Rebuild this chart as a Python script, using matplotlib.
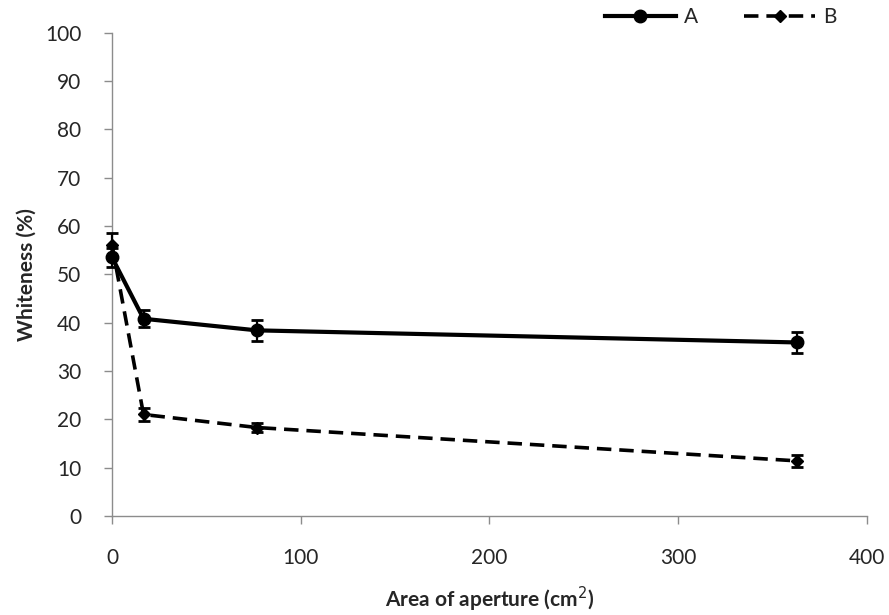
import matplotlib
matplotlib.use("Agg")
import matplotlib.pyplot as plt
from matplotlib.lines import Line2D

plt.rcParams['font.family'] = ['Lato', 'DejaVu Sans']

# Aperture area (cm^2) and whiteness (%) with standard deviations
area = [0, 16.7, 76.8, 363]
whiteness_a = [53.5, 40.8, 38.4, 35.9]
err_a = [2.0, 1.8, 2.1, 2.2]
whiteness_b = [56.0, 21.0, 18.3, 11.4]
err_b = [2.5, 1.3, 1.0, 1.3]
series_names = ["A", "B"]
x_ticks = [0, 100, 200, 300, 400]
y_ticks = list(range(0, 101, 10))

fig = plt.figure(figsize=(8.89, 6.15), dpi=100)
ax = fig.add_axes([0.126, 0.161, 0.849, 0.786])

style_a = dict(color='black', lw=3.0, marker='o', ms=9)
style_b = dict(color='black', lw=2.6, ls=(0, (4, 2.2)), marker='D', ms=6)

for y, e, st in [(whiteness_a, err_a, style_a), (whiteness_b, err_b, style_b)]:
    cont = ax.errorbar(area, y, yerr=e, capsize=4.5, capthick=2.0,
                       elinewidth=1.6, zorder=3, **st)
    for art in cont.get_children():
        art.set_clip_on(False)

ax.set_xlim(0, 400)
ax.set_ylim(0, 100)
ax.set_xticks(x_ticks)
ax.set_yticks(y_ticks)
for s in ['top', 'right']:
    ax.spines[s].set_visible(False)
for s in ['left', 'bottom']:
    ax.spines[s].set_color('#8c8c8c')
    ax.spines[s].set_linewidth(1.0)
ax.tick_params(axis='both', colors='#8c8c8c', labelcolor='#262626',
               labelsize=15, length=6, width=1.0, direction='out')
ax.tick_params(axis='x', pad=17)
ax.tick_params(axis='y', pad=16)

ax.set_xlabel("Area of aperture (cm$^{2}$)", fontsize=15, fontweight='bold',
              color='#262626', labelpad=12)
ax.set_ylabel("Whiteness (%)", fontsize=15, fontweight='bold',
              color='#262626', labelpad=6)

handles = [Line2D([], [], **style_a), Line2D([], [], **style_b)]
leg = ax.legend(handles, series_names, loc='center right',
                bbox_to_anchor=(0.985, 1.032), ncol=2, frameon=False,
                fontsize=15, handlelength=3.4, columnspacing=2.2,
                handletextpad=0.4)
for t in leg.get_texts():
    t.set_color('#262626')

fig.savefig("out.png", dpi=100)
